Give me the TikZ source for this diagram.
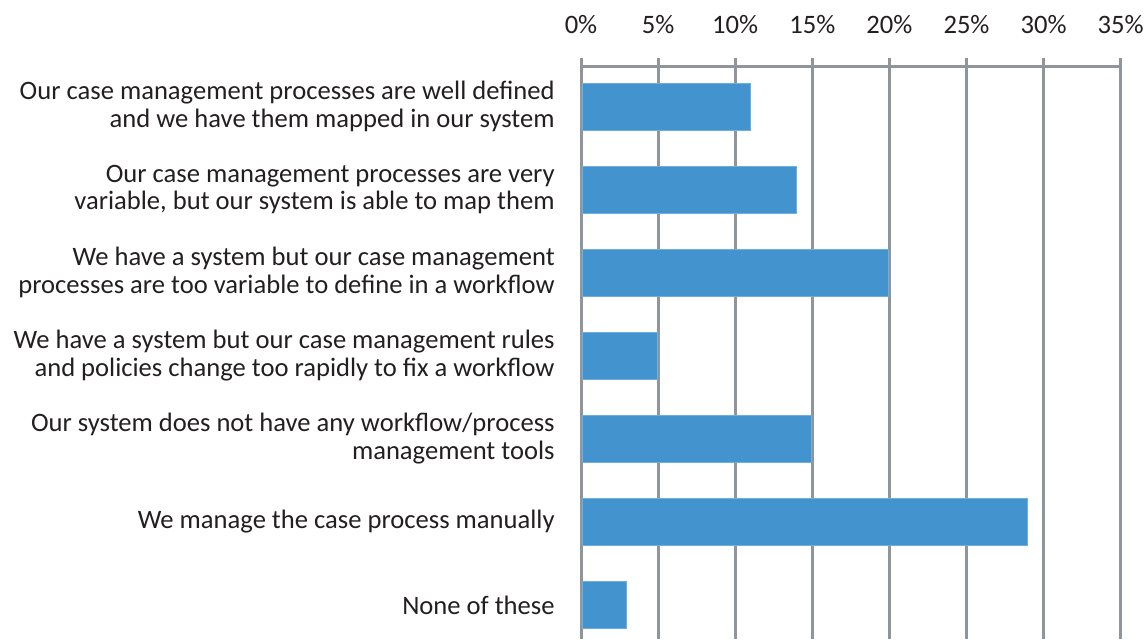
\documentclass[tikz,border=0pt]{standalone}
\usepackage{fontspec}
\setmainfont{Carlito}
\usetikzlibrary{positioning}

\definecolor{barblue}{RGB}{67,148,206}
\definecolor{baredge}{RGB}{110,175,222}
\definecolor{gridgray}{RGB}{143,149,155}
\definecolor{textgray}{RGB}{35,31,32}

\begin{document}
\begin{tikzpicture}[x=0.5pt, y=-0.5pt, font=\fontsize{13.3}{13.7}\selectfont, text=textgray]
    % styles for the chart
    \tikzstyle{bar} = [rectangle, anchor=west, inner sep=0pt, minimum height=23.5pt, fill=barblue, draw=baredge, line width=0.4pt]
    \tikzstyle{answer} = [anchor=east, align=right, inner sep=0pt]
    \tikzstyle{tick} = [anchor=center, inner sep=0pt]
    \tikzstyle{grid} = [draw=gridgray, line width=1.5pt]

    \useasboundingbox (0,0) rectangle (1148,639);

    % grid and axis
    \foreach \i in {0,...,7} {
        \draw [grid] (581+\i*77.1,58) -- (581+\i*77.1,639);
        \pgfmathtruncatemacro{\pct}{5*\i}
        \node [tick] (t\i) at (581+\i*77.1,25) {\pct\%};
    }
    \draw [grid] (581,66) -- (1121,66);

    % bars (7.71pt per percent)
    \node [bar, minimum width=11*7.71pt-1pt] (b1) at (582,106.5) {};
    \node [bar, minimum width=14*7.71pt-1pt] (b2) at (582,189.5) {};
    \node [bar, minimum width=20*7.71pt-1pt] (b3) at (582,272.5) {};
    \node [bar, minimum width=5*7.71pt-1pt]  (b4) at (582,355.5) {};
    \node [bar, minimum width=15*7.71pt-1pt] (b5) at (582,438.5) {};
    \node [bar, minimum width=29*7.71pt-1pt] (b6) at (582,521.5) {};
    \node [bar, minimum width=3*7.71pt-1pt]  (b7) at (582,605) {};

    % answer labels
    \node [answer] (l1) at (555,106.5) {Our case management processes are well defined\\and we have them mapped in our system};
    \node [answer] (l2) at (555,189.5) {Our case management processes are very\\variable, but our system is able to map them};
    \node [answer] (l3) at (555,272.5) {We have a system but our case management\\processes are too variable to define in a workflow};
    \node [answer] (l4) at (555,355.5) {We have a system but our case management rules\\and policies change too rapidly to fix a workflow};
    \node [answer] (l5) at (555,438.5) {Our system does not have any workflow/process\\management tools};
    \node [answer] (l6) at (555,521.5) {We manage the case process manually};
    \node [answer] (l7) at (555,605) {None of these};
\end{tikzpicture}
\end{document}
